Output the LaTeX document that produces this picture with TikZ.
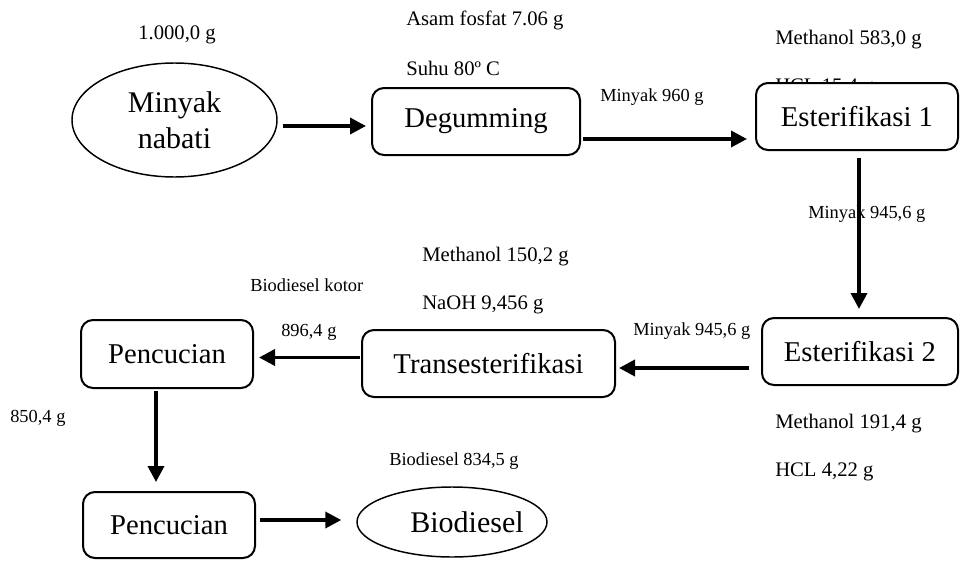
\documentclass[tikz,border=0pt]{standalone}
\usepackage{fontspec}
\setmainfont{Liberation Serif}
\usetikzlibrary{shapes.geometric,arrows.meta}
\tikzset{
  procbox/.style={draw,line width=1.5pt,rounded corners=9pt,fill=white,inner sep=0pt,font=\fontsize{21.5}{26}\selectfont},
  ovalnode/.style={draw,ellipse,line width=1.1pt,fill=white,inner sep=0pt,font=\fontsize{22.5}{27}\selectfont,align=center},
  biglbl/.style={anchor=west,inner sep=0pt,font=\fontsize{15.5}{18}\selectfont},
  smalllbl/.style={anchor=west,inner sep=0pt,font=\fontsize{13.8}{16}\selectfont},
  flow/.style={line width=2.7pt,-{Triangle[length=12pt,width=12pt]}}
}
\begin{document}
\begin{tikzpicture}[x=0.75pt,y=-0.75pt]
\useasboundingbox (0,0) rectangle (960,564);
% labels
\node[biglbl,anchor=center] (l1) at (177,35) {1.000,0 g};
\node[biglbl] (l2) at (406,20) {Asam fosfat 7.06 g};
\node[biglbl] (l3) at (406,68) {Suhu 80º C};
\node[smalllbl] (l4) at (600,97) {Minyak 960 g};
\node[biglbl] (l5) at (775,40) {Methanol 583,0 g};
\node[biglbl] (l6) at (775,88) {HCL 15,4 g};
\node[smalllbl] (l7) at (808,214) {Minyak 945,6 g};
\node[biglbl] (l8) at (422,257) {Methanol 150,2 g};
\node[biglbl] (l9) at (422,305) {NaOH 9,456 g};
\node[smalllbl] (l10) at (250,285) {Biodiesel kotor};
\node[smalllbl] (l11) at (281,332) {896,4 g};
\node[smalllbl] (l12) at (633,331) {Minyak 945,6 g};
\node[smalllbl] (l13) at (10,418) {850,4 g};
\node[biglbl] (l14) at (775,424) {Methanol 191,4 g};
\node[biglbl] (l15) at (775,472) {HCL 4,22 g};
\node[smalllbl,anchor=center] (l16) at (454,461) {Biodiesel 834,5 g};
% nodes
\node[ovalnode,minimum width=153.75pt,minimum height=85.5pt] (mn) at (174.5,120) {Minyak\\nabati};
\node[procbox,minimum width=156pt,minimum height=50.25pt] (deg) at (476,121.5) {Degumming};
\node[procbox,minimum width=151.5pt,minimum height=50.25pt] (e1) at (857,116.5) {Esterifikasi 1};
\node[procbox,minimum width=147pt,minimum height=50.25pt] (e2) at (860,351.5) {Esterifikasi 2};
\node[procbox,minimum width=189.75pt,minimum height=50.25pt] (tr) at (488.5,363.5) {Transesterifikasi};
\node[procbox,minimum width=129pt,minimum height=51pt] (p1) at (167,354) {Pencucian};
\node[procbox,minimum width=129pt,minimum height=49.5pt] (p2) at (169,525) {Pencucian};
\node[ovalnode,minimum width=142.5pt,minimum height=52.5pt] (bd) at (452,522) {};
\node[inner sep=0pt,font=\fontsize{22.5}{27}\selectfont] (bdt) at (467,522) {Biodiesel};
% connectors
\draw[flow] ([shift={(5,6)}]mn.east) -- ([shift={(-5,4.5)}]deg.west);
\draw[flow] ([shift={(2,17.5)}]deg.east) -- ([shift={(-8,22.5)}]e1.west);
\draw[flow] ([shift={(2,7)}]e1.south) -- ([shift={(-1,-8)}]e2.north);
\draw[flow] ([shift={(-12,16.5)}]e2.west) -- ([shift={(3,4.5)}]tr.east);
\draw[flow] ([shift={(-1,-6)}]tr.west) -- ([shift={(5,3.5)}]p1.east);
\draw[flow] ([shift={(-11,2)}]p1.south) -- ([shift={(-13,-9)}]p2.north);
\draw[flow] ([shift={(4,-5)}]p2.east) -- ([shift={(-15,-2)}]bd.west);
\end{tikzpicture}
\end{document}
